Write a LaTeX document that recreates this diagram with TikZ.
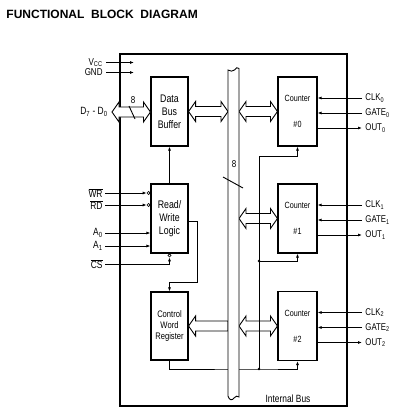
\documentclass[tikz,border=0pt]{standalone}
\usepackage{fontspec}
\setmainfont{Liberation Sans}
\newfontfamily\condsf{Liberation Sans}[FakeStretch=0.8]
\usetikzlibrary{arrows.meta,calc}

\newcommand{\ovl}[1]{$\overline{\mbox{#1}}$}
% hollow bus arrows, heads at both ends / at the first end only
\newcommand{\dblarrow}[2]{\draw[hollow] let \p1=(#1), \p2=(#2) in
  (\x1,\y1) -- (\x1+7pt,\y1+10pt) -- (\x1+7pt,\y1+5pt) -- (\x2-7pt,\y1+5pt) -- (\x2-7pt,\y1+10pt)
  -- (\x2,\y1) -- (\x2-7pt,\y1-10pt) -- (\x2-7pt,\y1-5pt) -- (\x1+7pt,\y1-5pt) -- (\x1+7pt,\y1-10pt) -- cycle;}
\newcommand{\sglarrow}[2]{\draw[hollow] let \p1=(#1), \p2=(#2) in
  (\x1,\y1) -- (\x1+7pt,\y1+10pt) -- (\x1+7pt,\y1+5pt) -- (\x2,\y1+5pt)
  -- (\x2,\y1-5pt) -- (\x1+7pt,\y1-5pt) -- (\x1+7pt,\y1-10pt) -- cycle;}

\begin{document}
\begin{tikzpicture}[x=1pt,y=-1pt,line width=0.9pt,
  blk/.style={draw,line width=1.1pt,inner sep=0pt,minimum width=37pt,minimum height=69pt,align=center,font=\condsf\fontsize{11}{12.8}\selectfont},
  ctr/.style={blk,minimum width=39pt,font=\condsf\fontsize{9}{10}\selectfont},
  pin/.style={font=\condsf\fontsize{10.5}{12}\selectfont,inner sep=2pt,anchor=east},
  rpin/.style={font=\condsf\fontsize{9.8}{11}\selectfont,inner sep=3pt,anchor=west},
  sig/.style={-{Latex[length=4pt,width=3pt]}},
  inv/.style={circle,draw,line width=0.6pt,inner sep=0pt,minimum size=3.2pt},
  hollow/.style={draw,line width=0.9pt,fill=white,line join=miter},
  dot/.style={circle,fill,inner sep=0pt,minimum size=2.6pt}]
\useasboundingbox (0,0) rectangle (413,415);
\node[anchor=base west,font=\bfseries\fontsize{12}{14}\selectfont,inner sep=0pt] (title) at (6,19) {FUNCTIONAL\ \ BLOCK\ \ DIAGRAM};
\draw[line width=1.1pt] (120,54) rectangle (347,406);
\coordinate (busL) at (228,0);
\coordinate (busR) at (239,0);

% blocks
\node[blk] (dbb) at (169.5,111.5) {Data\\Bus\\Buffer};
\node[blk] (rw) at (169.5,218.5) {Read/\\Write\\Logic};
\node[blk,minimum height=68pt,font=\condsf\fontsize{9.5}{10.8}\selectfont] (cwr) at (169.5,326) {Control\\Word\\Register};

% supply and data pins
\node[pin,inner sep=0pt,font=\condsf\fontsize{10}{11}\selectfont] (vcc) at (103,62.5) {V\textsubscript{CC}};
\node[pin,inner sep=0pt,font=\condsf\fontsize{10}{11}\selectfont] (gnd) at (103,72.5) {GND};
\draw[sig] ([xshift=3pt]vcc.east) -- ++(28,0);
\draw[sig] ([xshift=3pt]gnd.east) -- ++(28,0);
\node[pin] (dpins) at (110,112) {D\textsubscript{7} - D\textsubscript{0}};
\dblarrow{[xshift=2pt]dpins.east}{dbb.west}
\node[font=\condsf\fontsize{10}{11}\selectfont] (dwidth) at (133,100) {8};
\draw (129,106) -- (135,119);
\dblarrow{dbb.east}{dbb.east -| busL}
\draw[sig] (rw.north) -- (dbb.south);

% read/write control pins
\node[pin] (wr) at (105,193) {\ovl{WR}};
\node[pin] (rd) at (105,205) {\ovl{RD}};
\node[pin] (a0) at (105,233) {A\textsubscript{0}};
\node[pin] (a1) at (105,246) {A\textsubscript{1}};
\node[pin] (cs) at (105,264) {\ovl{CS}};
\node[inv,anchor=east] (wrinv) at (rw.west |- wr.east) {};
\node[inv,anchor=east] (rdinv) at (rw.west |- rd.east) {};
\node[inv,anchor=north] (csinv) at (rw.south) {};
\draw[sig] (wr.east) -- (wrinv.west);
\draw[sig] (rd.east) -- (rdinv.west);
\draw[sig] (a0.east) -- (a0.east -| rw.west);
\draw[sig] (a1.east) -- (a1.east -| rw.west);
\draw[sig] (cs.east) -| (csinv.south);
\draw[sig] ([yshift=-2.5pt]rw.east) -- ++(9,0) |- ([yshift=9pt]cwr.north) -- (cwr.north);
\sglarrow{cwr.east}{cwr.east -| busL}

% counters
\foreach \i/\y in {0/111.5,1/218.5,2/326} {
  \node[ctr] (ctr\i) at (297.5,\y) {Counter\\[16pt]\#\i};
  \node[rpin] (clk\i) at (362,\y-13.5) {CLK\textsubscript{\i}};
  \node[rpin] (gate\i) at (362,\y+1.5) {GATE\textsubscript{\i}};
  \node[rpin] (out\i) at (362,\y+16.5) {OUT\textsubscript{\i}};
  \draw[sig] (clk\i.west) -- (clk\i.west -| ctr\i.east);
  \draw[sig] (gate\i.west) -- (gate\i.west -| ctr\i.east);
  \draw[sig] (out\i.west -| ctr\i.east) -- (out\i.west);
  \dblarrow{ctr\i.west -| busR}{ctr\i.west}
}

% control word lines
\coordinate (ctlA) at (259,369);
\coordinate (ctlB) at (259,156);
\coordinate (ctlC) at (259,261);
\draw[sig] (cwr.south) |- (ctlA) -| (ctr2.south);
\draw[sig] (ctlA) -- (ctlB) -| (ctr0.south);
\draw[sig] (ctlC) -| (ctr1.south);
\node[dot] (jA) at (ctlA) {};
\node[dot] (jC) at (ctlC) {};

% internal bus
\draw[fill=white] (228,70) -- (228,396) .. controls (229,400) and (232,401) .. (234,398)
  .. controls (235.5,396) and (237.5,395.5) .. (239,397) -- (239,68.5)
  .. controls (237.5,67) and (236,67.5) .. (234.5,70) .. controls (233,72) and (230,71) .. (228,70) -- cycle;
\node[font=\condsf\fontsize{10}{11}\selectfont] (bwidth) at (234,164) {8};
\draw (223,177) -- (243,188);
\node[font=\condsf\fontsize{10.5}{12}\selectfont] (ibus) at (288,399) {Internal Bus};
\end{tikzpicture}
\end{document}
